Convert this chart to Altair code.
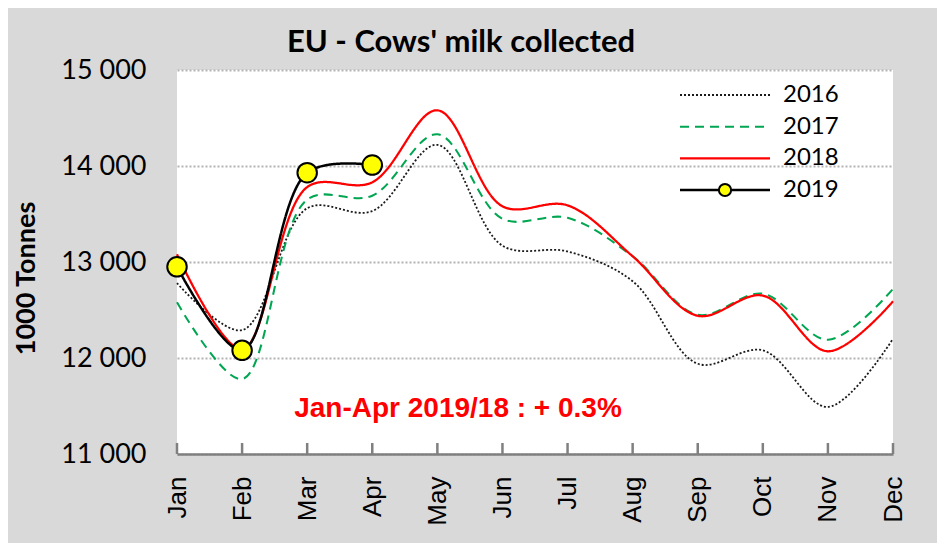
import altair as alt
import pandas as pd

months = ["Jan", "Feb", "Mar", "Apr", "May", "Jun", "Jul", "Aug", "Sep", "Oct", "Nov", "Dec"]
years = ["2016", "2017", "2018", "2019"]
v2016 = [12780, 12290, 13560, 13530, 14220, 13170, 13110, 12800, 11940, 12080, 11490, 12200]
v2017 = [12580, 11780, 13650, 13690, 14330, 13450, 13460, 13060, 12450, 12670, 12190, 12720]
v2018 = [13080, 12090, 13780, 13830, 14580, 13580, 13590, 13060, 12440, 12650, 12070, 12590]
v2019 = [12950, 12080, 13930, 14010]
y_ticks = [11000, 12000, 13000, 14000, 15000]
title_text = "EU - Cows' milk collected"
annotation = "Jan-Apr 2019/18 : + 0.3%"

rows = []
for yr, vals in zip(years, [v2016, v2017, v2018, v2019]):
    for m, v in zip(months, vals):
        rows.append({"month": m, "year": yr, "value": v})
df = pd.DataFrame(rows)

colors = ["#1a1a1a", "#00a651", "#ff0000", "#000000"]
dashes = [[2, 2], [9, 6], [1, 0], [1, 0]]
widths = [1.8, 2.5, 2.2, 5.5]

x_enc = alt.X(
    "month:N", sort=months,
    scale=alt.Scale(type="point", padding=0, domain=months),
    axis=alt.Axis(title=None, labelAngle=270, labelFont="Liberation Sans", labelFontSize=26,
                  labelColor="#000000", labelPadding=22, ticks=False, grid=False,
                  domainColor="#808080", domainWidth=2.5),
)
y_scale = alt.Scale(domain=[11000, 15000], nice=False, zero=False)
y_enc = alt.Y(
    "value:Q", scale=y_scale,
    axis=alt.Axis(values=y_ticks, labelExpr="replace(format(datum.value, ','), ',', ' ')",
                  labelFont="Lato", labelFontSize=27, labelColor="#000000", labelPadding=31,
                  domain=False, ticks=False, grid=True, gridColor="#b3b3b3", gridDash=[2, 2],
                  gridWidth=2, title="1000 Tonnes", titleFont="Lato", titleFontSize=27,
                  titleFontWeight="bold", titleColor="#000000", titleAngle=270,
                  titleX=-151, titleY=208, titleAlign="center", titleBaseline="middle"),
)
color = alt.Color("year:N", scale=alt.Scale(domain=years, range=colors), legend=None)
dash = alt.StrokeDash("year:N", scale=alt.Scale(domain=years, range=dashes), legend=None)
sw = alt.StrokeWidth("year:N", scale=alt.Scale(domain=years, range=widths), legend=None)

base = alt.Chart(df)
lines = base.mark_line(interpolate="catmull-rom").encode(
    x=x_enc, y=y_enc, color=color, strokeDash=dash, strokeWidth=sw,
    order=alt.Order("year:N"),
)
points = base.transform_filter(alt.datum.year == "2019").mark_point(
    filled=True, fill="#ffff00", stroke="#000000", strokeWidth=2, size=380, opacity=1
).encode(x=x_enc, y=y_enc)

ticks = alt.Chart(pd.DataFrame({"month": months})).mark_rule(
    color="#808080", strokeWidth=2.5
).encode(x=x_enc, y=alt.value(373), y2=alt.value(384))

annot = alt.Chart(pd.DataFrame({"t": [annotation]})).mark_text(
    font="Liberation Sans", fontSize=28, fontWeight="bold", color="#ff0000",
    align="center", baseline="alphabetic"
).encode(x=alt.value(281), y=alt.value(347), text="t:N")

title = alt.Chart(pd.DataFrame({"t": [title_text]})).mark_text(
    font="Lato", fontSize=31, fontWeight="bold", color="#000000",
    align="center", baseline="alphabetic"
).encode(x=alt.value(284), y=alt.value(-18), text="t:N")

main = alt.layer(ticks, lines, points, annot, title)

leg_df = pd.DataFrame({"year": years})
ly = alt.Y("year:N", scale=alt.Scale(type="point", domain=years, range=[25, 120], padding=0), axis=None)
leg_rules = alt.Chart(leg_df).mark_rule().encode(
    x=alt.value(503), x2=alt.value(593), y=ly, color=color, strokeDash=dash, strokeWidth=sw
)
leg_pt = alt.Chart(leg_df).transform_filter(alt.datum.year == "2019").mark_point(
    filled=True, fill="#ffff00", stroke="#000000", strokeWidth=2, size=150, opacity=1
).encode(x=alt.value(548), y=ly)
leg_txt = alt.Chart(leg_df).mark_text(
    align="left", baseline="middle", font="Lato", fontSize=24, color="#000000"
).encode(x=alt.value(606), y=ly, text="year:N")
legend = alt.layer(leg_rules, leg_pt, leg_txt)

chart = alt.layer(main, legend).resolve_scale(y="independent").properties(
    width=716, height=384,
    autosize=alt.AutoSizeParams(type="none"),
    padding={"left": 169, "top": 62, "right": 44, "bottom": 89},
    background="#d9d9d9",
).configure_view(fill="#ffffff", strokeWidth=0)

chart.save("out.html", embed_options={"renderer": "svg", "actions": False})
